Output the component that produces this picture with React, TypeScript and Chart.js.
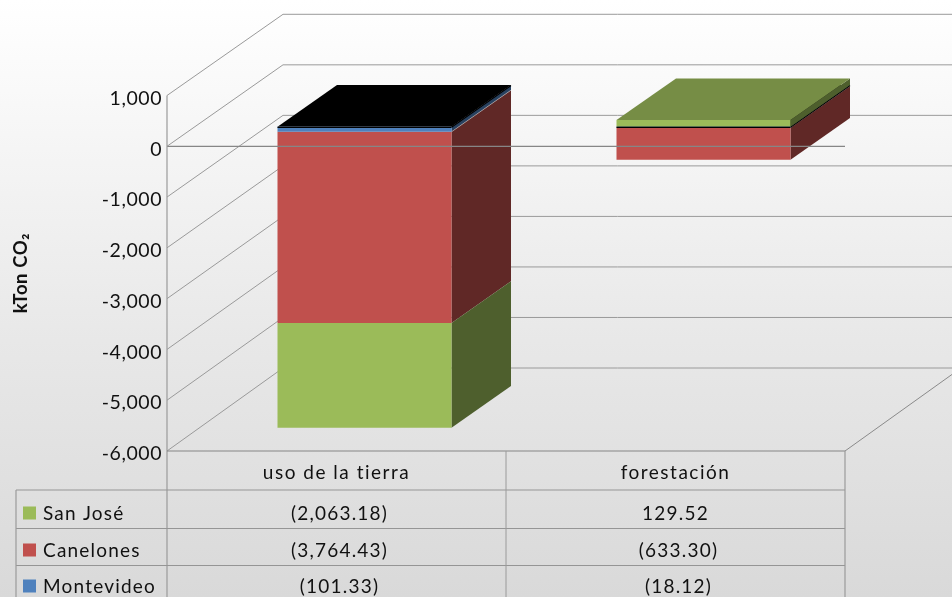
import React, { useEffect, useRef } from "react";
import { Chart, registerables } from "chart.js";

Chart.register(...registerables);

const categories = ["uso de la tierra", "forestación"];
const seriesNames = ["San José", "Canelones", "Montevideo"];
const sanJose = [-2063.18, 129.52];
const canelones = [-3764.43, -633.3];
const montevideo = [-101.33, -18.12];

const colors: Record<string, { front: string; side: string; top: string }> = {
  "San José": { front: "#9BBB59", side: "#4E5F2D", top: "#768D45" },
  Canelones: { front: "#C0504D", side: "#602826", top: "#904040" },
  Montevideo: { front: "#4F81BD", side: "#28415F", top: "#3B618E" },
};

const W = 952;
const H = 597;
const LINE = "#8E8E8E";
const FONT = "Lato, Carlito, sans-serif";
const SPACING = "0.55px";
const TABLE_SPACING = "1.2px";
const CATEGORY_SPACING = "1.5px";

// projection of the 3D box
const WALL_DX = 116;
const WALL_TOP_DY = -81.2;
const WALL_BOTTOM_DY = -83;
const BAR_SHIFT_X = 28;
const BAR_SHIFT_Y = -19.6;
const BAR_DX = 59.5;
const BAR_DY = -41.7;

const fmt = (v: number) => {
  const s = Math.abs(v).toLocaleString("en-US", { minimumFractionDigits: 2, maximumFractionDigits: 2 });
  return v < 0 ? `(${s})` : s;
};

function poly(ctx: CanvasRenderingContext2D, pts: number[][], fill: string) {
  ctx.fillStyle = fill;
  ctx.beginPath();
  pts.forEach(([x, y], i) => (i ? ctx.lineTo(x, y) : ctx.moveTo(x, y)));
  ctx.closePath();
  ctx.fill();
}

function line(ctx: CanvasRenderingContext2D, x1: number, y1: number, x2: number, y2: number, color = LINE, w = 1) {
  ctx.strokeStyle = color;
  ctx.lineWidth = w;
  ctx.beginPath();
  ctx.moveTo(x1, y1);
  ctx.lineTo(x2, y2);
  ctx.stroke();
}

const box3d = {
  id: "box3d",
  beforeDraw(chart: any) {
    const { ctx } = chart;
    (ctx as any).letterSpacing = SPACING;
    ctx.save();
    const g = ctx.createLinearGradient(0, 0, 0, H);
    g.addColorStop(0, "#FFFFFF");
    g.addColorStop(0.15, "#F9F9F9");
    g.addColorStop(0.57, "#E8E8E8");
    g.addColorStop(1, "#D9D9D9");
    ctx.fillStyle = g;
    ctx.fillRect(0, 0, W, H);
    ctx.restore();
  },
  beforeDatasetsDraw(chart: any) {
    const { ctx, chartArea: a, scales } = chart;
    const y = scales.y;
    const span = a.bottom - a.top;
    const backY = (py: number) => py + WALL_TOP_DY + ((WALL_BOTTOM_DY - WALL_TOP_DY) * (py - a.top)) / span;

    ctx.save();
    // walls
    y.ticks.forEach((t: any) => {
      const py = y.getPixelForValue(t.value);
      const by = backY(py);
      line(ctx, a.left, py, a.left + WALL_DX, by, "#9A9A9A");
      line(ctx, a.left + WALL_DX, by, W, by, "#9A9A9A");
    });
    const floorBack = backY(a.bottom);
    line(ctx, a.right, a.bottom, a.right + WALL_DX, floorBack, "#8A8A8A");

    // bar sides and top faces
    const sx = BAR_SHIFT_X;
    const sy = BAR_SHIFT_Y;
    const zero = y.getPixelForValue(0) + sy;
    const side = (el: any, fill: string) => {
      const r = el.x + el.width / 2 + sx;
      const t = Math.min(el.y, el.base) + sy;
      const b = Math.max(el.y, el.base) + sy;
      poly(ctx, [[r, t], [r + BAR_DX, t + BAR_DY], [r + BAR_DX, b + BAR_DY], [r, b]], fill);
    };
    const top = (el: any, ty: number, fill: string) => {
      const l = el.x - el.width / 2 + sx;
      const r = el.x + el.width / 2 + sx;
      poly(ctx, [[l, ty], [l + BAR_DX, ty + BAR_DY], [r + BAR_DX, ty + BAR_DY], [r, ty]], fill);
    };
    const metas = chart.getSortedVisibleDatasetMetas();
    const each = (fn: (el: any, c: any, value: number) => void) =>
      metas.forEach((m: any) =>
        m.data.forEach((el: any, i: number) => fn(el, colors[m.label], chart.data.datasets[m.index].data[i]))
      );
    each((el, c, v) => { if (v < 0) side(el, c.side); });
    // pale edge where the red side meets the layer above it
    metas[1].data.forEach((el: any) => {
      const r = el.x + el.width / 2 + sx;
      const t = Math.min(el.y, el.base) + sy;
      line(ctx, r, t, r + BAR_DX, t + BAR_DY, "rgba(190,190,190,0.7)", 0.8);
    });
    metas[0].data.forEach((el: any) => {
      top(el, zero, "#000000");
      const r = el.x + el.width / 2 + sx;
      const l = el.x - el.width / 2 + sx;
      line(ctx, r, zero + 0.6, r + BAR_DX, zero + 0.6 + BAR_DY, "#000000", 1.2);
      el.$zeroEdge = [l, r];
    });
    each((el, c, v) => {
      if (v > 0) {
        side(el, c.side);
        top(el, el.y + sy, c.top);
      }
    });
    ctx.restore();
    ctx.save();
    ctx.translate(sx, sy);
  },
  afterDatasetsDraw(chart: any) {
    const { ctx, chartArea: a, scales } = chart;
    ctx.restore();
    const y = scales.y;
    const x = scales.x;
    const zero = y.getPixelForValue(0);
    ctx.save();
    // black edge of the empty top series
    const metas = chart.getSortedVisibleDatasetMetas();
    metas[0].data.forEach((el: any) => {
      const [l, r] = el.$zeroEdge;
      line(ctx, l, zero + BAR_SHIFT_Y + 0.6, r, zero + BAR_SHIFT_Y + 0.6, "#000000", 1.3);
    });
    // zero line in front of the bars
    line(ctx, a.left, zero, a.right, zero, "#868686", 1.2);

    // data table
    const rows = [451, 490, 528.5, 565.5];
    const tableLeft = 16;
    const mid = (x.getPixelForValue(0) + x.getPixelForValue(1)) / 2;
    line(ctx, a.left, a.top, a.left, H, "#9A9A9A", 1.2);
    line(ctx, a.left, rows[0], a.right, rows[0], "#868686", 1.2);
    rows.slice(1).forEach((r) => line(ctx, tableLeft, r, a.right, r, "#959595", 1.2));
    line(ctx, tableLeft, rows[1], tableLeft, H, "#9A9A9A", 1.2);
    line(ctx, mid, rows[0], mid, H, "#9A9A9A", 1);
    line(ctx, a.right, rows[0], a.right, H, "#9A9A9A", 1.2);

    ctx.font = `19px ${FONT}`;
    (ctx as any).letterSpacing = TABLE_SPACING;
    ctx.textBaseline = "alphabetic";
    const baselines = [520, 557, 593];
    const series = [sanJose, canelones, montevideo];
    seriesNames.forEach((name, r) => {
      ctx.fillStyle = colors[name].front;
      ctx.fillRect(23, baselines[r] - 13.5, 13, 13);
      ctx.fillStyle = "#111111";
      ctx.textAlign = "left";
      ctx.fillText(name, 43, baselines[r]);
      ctx.textAlign = "center";
      series[r].forEach((v, i) => ctx.fillText(fmt(v), x.getPixelForValue(i) + (v < 0 ? 3 : 0), baselines[r]));
    });
    (ctx as any).letterSpacing = SPACING;
    ctx.restore();
  },
};

export default function App() {
  const ref = useRef<HTMLCanvasElement>(null);
  useEffect(() => {
    const chart = new Chart(ref.current!, {
      type: "bar",
      data: {
        labels: categories,
        datasets: [
          { label: "Montevideo", data: montevideo, backgroundColor: colors.Montevideo.front },
          { label: "Canelones", data: canelones, backgroundColor: colors.Canelones.front },
          { label: "San José", data: sanJose, backgroundColor: colors["San José"].front },
        ],
      },
      options: {
        animation: false,
        responsive: false,
        devicePixelRatio: 1,
        layout: { padding: { top: 95.5, right: 107, left: 0, bottom: 0 } },
        datasets: { bar: { categoryPercentage: 1, barPercentage: 174 / 339, borderWidth: 0 } },
        plugins: { legend: { display: false }, tooltip: { enabled: false }, title: { display: false } },
        scales: {
          x: {
            stacked: true,
            grid: { display: false, drawTicks: false },
            border: { display: false },
            ticks: { padding: 10, color: "#111111", font: { family: FONT, size: 19 }, maxRotation: 0 },
            afterFit(s: any) {
              s.height = H - 451;
              if (!s.$spaced) {
                s.$spaced = true;
                const draw = s.drawLabels;
                s.drawLabels = function (area: any) {
                  (s.ctx as any).letterSpacing = CATEGORY_SPACING;
                  draw.call(s, area);
                  (s.ctx as any).letterSpacing = SPACING;
                };
              }
            },
          },
          y: {
            stacked: true,
            min: -6000,
            max: 1000,
            grid: { display: false, drawTicks: false },
            border: { display: false },
            ticks: {
              stepSize: 1000,
              padding: 5,
              labelOffset: 3,
              color: "#111111",
              font: { family: FONT, size: 19.5 },
              callback: (v: any) => Number(v).toLocaleString("en-US"),
            },
            title: {
              display: true,
              text: "kTon CO₂",
              color: "#111111",
              font: { family: FONT, size: 18.5, weight: "bold" },
              padding: { top: 10, bottom: 0 },
            },
            afterFit(s: any) { s.width = 167; },
          },
        },
      } as any,
      plugins: [box3d as any],
    });
    return () => chart.destroy();
  }, []);
  return (
    <div style={{ width: W, height: H, overflow: "hidden" }}>
      <style>{`body{margin:0}`}</style>
      <canvas ref={ref} width={W} height={H} style={{ display: "block" }} />
    </div>
  );
}
